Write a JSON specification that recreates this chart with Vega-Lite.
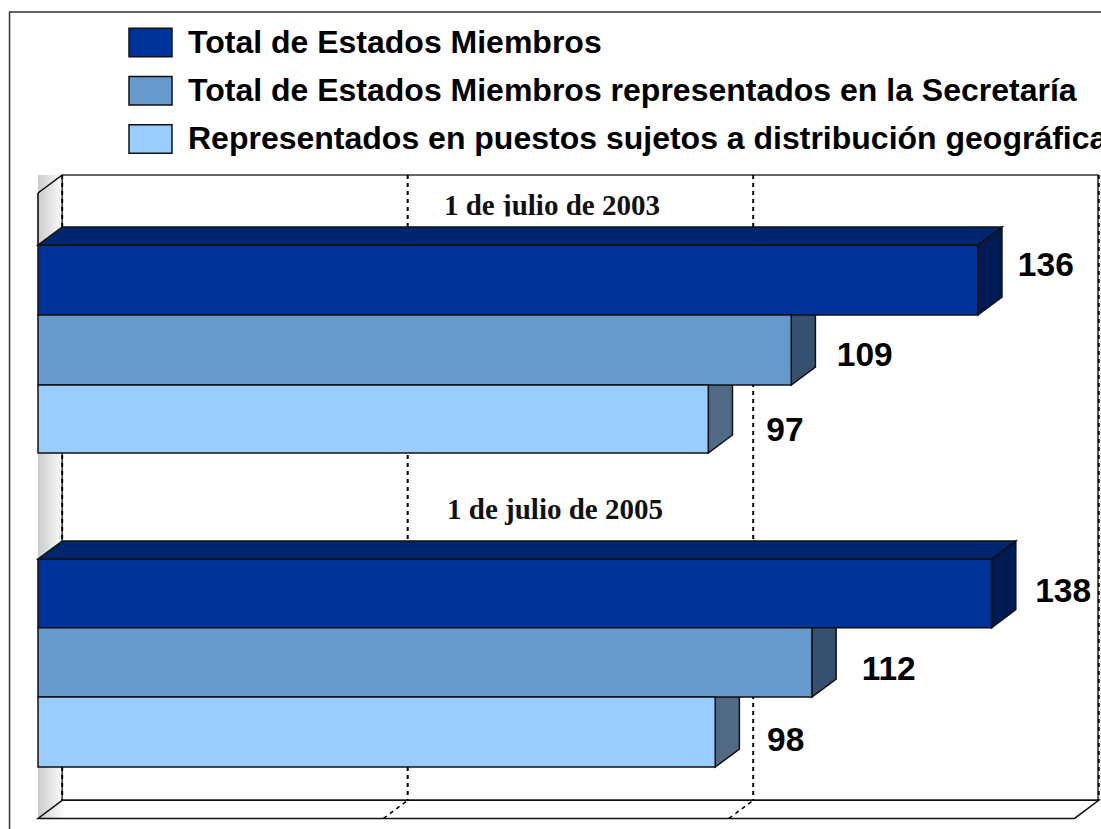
{
"$schema":"https://vega.github.io/schema/vega-lite/v6.json",
"width":1101,"height":829,"padding":0,"autosize":{"type":"none"},"background":"white",
"config":{"axis":{"disable":true},"view":{"stroke":null}},
"datasets":{
"bars":[
{"period":"1 de julio de 2003","series":"Total de Estados Miembros","base":0,"value":136,"slot":0,"slotEnd":1.01,"labelAt":141.8,"labelSlot":0.3},
{"period":"1 de julio de 2003","series":"Total de Estados Miembros representados en la Secretaría","base":0,"value":109,"slot":1.01,"slotEnd":2.02,"labelAt":115.6,"labelSlot":1.6},
{"period":"1 de julio de 2003","series":"Representados en puestos sujetos a distribución geográfica","base":0,"value":97,"slot":2.02,"slotEnd":3,"labelAt":105.4,"labelSlot":2.68},
{"period":"1 de julio de 2005","series":"Total de Estados Miembros","base":0,"value":138,"slot":4.53,"slotEnd":5.52,"labelAt":144.3,"labelSlot":5.0},
{"period":"1 de julio de 2005","series":"Total de Estados Miembros representados en la Secretaría","base":0,"value":112,"slot":5.52,"slotEnd":6.52,"labelAt":119.2,"labelSlot":6.13},
{"period":"1 de julio de 2005","series":"Representados en puestos sujetos a distribución geográfica","base":0,"value":98,"slot":6.52,"slotEnd":7.53,"labelAt":105.5,"labelSlot":7.15}],
"periods":[{"period":"1 de julio de 2003","at":58.75,"slot":-0.56},{"period":"1 de julio de 2005","at":59.2,"slot":3.82}],
"ticks":[{"tick":0},{"tick":50},{"tick":100},{"tick":150}],
"edges":[{"edge":0},{"edge":1}],
"frame":[{"part":"border","a":-4.12,"b":165,"c":-3.36,"d":10},{"part":"side","a":0,"b":3.9,"c":-1.01,"d":8.27},{"part":"wall","a":3.5,"b":153.4,"c":-1.01,"d":8.01},{"part":"corner","a":0,"b":0,"c":-0.75,"d":0},{"part":"mask","a":58.75,"b":90,"c":-0.41,"d":-0.27}]
},
"layer":[
{"mark":{"type":"rect","fillOpacity":0,"stroke":"#333333","strokeWidth":1.5},
 "data":{"name":"frame"},"transform":[{"filter":"datum.part=='border'"}],
 "encoding":{"x":{"field":"a","type":"quantitative","scale":{"domain":[-5.5,153.83],"zero":false,"nice":false}},"x2":{"field":"b"},
  "y":{"field":"c","type":"quantitative","scale":{"domain":[-3.534,8.423],"reverse":true,"zero":false,"nice":false}},"y2":{"field":"d"}}},
{"mark":{"type":"rect","fill":{"gradient":"linear","x1":0,"y1":0,"x2":1,"y2":0,"stops":[{"offset":0,"color":"#cccccc"},{"offset":1,"color":"#ffffff"}]}},
 "data":{"name":"frame"},"transform":[{"filter":"datum.part=='side'"}],
 "encoding":{"x":{"field":"a","type":"quantitative","scale":{"domain":[-5.5,153.83],"zero":false,"nice":false}},"x2":{"field":"b"},
  "y":{"field":"c","type":"quantitative","scale":{"domain":[-3.534,8.423],"reverse":true,"zero":false,"nice":false}},"y2":{"field":"d"}}},
{"mark":{"type":"rect","fill":"white","stroke":"#333333","strokeWidth":1.5},
 "data":{"name":"frame"},"transform":[{"filter":"datum.part=='wall'"}],
 "encoding":{"x":{"field":"a","type":"quantitative","scale":{"domain":[-5.5,153.83],"zero":false,"nice":false}},"x2":{"field":"b"},
  "y":{"field":"c","type":"quantitative","scale":{"domain":[-3.534,8.423],"reverse":true,"zero":false,"nice":false}},"y2":{"field":"d"}}},
{"mark":{"type":"area","orient":"horizontal","fillOpacity":0,"stroke":"#111111","strokeWidth":1.5},
 "data":{"name":"edges"},
 "transform":[{"calculate":"datum.edge*3.5","as":"xa"},{"calculate":"150+datum.edge*3.5","as":"xb"},{"calculate":"8.27-datum.edge*0.26","as":"yy"}],
 "encoding":{"x":{"field":"xa","type":"quantitative","scale":{"domain":[-5.5,153.83],"zero":false,"nice":false}},"x2":{"field":"xb"},
  "y":{"field":"yy","type":"quantitative","scale":{"domain":[-3.534,8.423],"reverse":true,"zero":false,"nice":false}}}},
{"mark":{"type":"rule","stroke":"black","strokeWidth":2,"strokeDash":[4,4]},
 "data":{"name":"ticks"},"transform":[{"calculate":"datum.tick+3.5","as":"back"},{"calculate":"-1.01","as":"top"},{"calculate":"8.01","as":"bottom"}],
 "encoding":{"x":{"field":"back","type":"quantitative","scale":{"domain":[-5.5,153.83],"zero":false,"nice":false}},
  "y":{"field":"top","type":"quantitative","scale":{"domain":[-3.534,8.423],"reverse":true,"zero":false,"nice":false}},"y2":{"field":"bottom"}}},
{"mark":{"type":"line","stroke":"black","strokeWidth":1.5,"strokeDash":[4,4]},
 "data":{"name":"ticks"},
 "transform":[{"filter":"datum.tick==50||datum.tick==100"},{"calculate":"[0,1]","as":"edge"},{"flatten":["edge"]},{"calculate":"datum.tick+datum.edge*3.5","as":"fx"},{"calculate":"8.27-datum.edge*0.26","as":"fy"}],
 "encoding":{"x":{"field":"fx","type":"quantitative","scale":{"domain":[-5.5,153.83],"zero":false,"nice":false}},
  "y":{"field":"fy","type":"quantitative","scale":{"domain":[-3.534,8.423],"reverse":true,"zero":false,"nice":false}},"detail":{"field":"tick","type":"nominal"}}},
{"mark":{"type":"line","stroke":"black","strokeWidth":1.5},
 "data":{"name":"edges"},
 "transform":[{"calculate":"datum.edge*3.5","as":"fx"},{"calculate":"-0.75-datum.edge*0.26","as":"fy"}],
 "encoding":{"x":{"field":"fx","type":"quantitative","scale":{"domain":[-5.5,153.83],"zero":false,"nice":false}},
  "y":{"field":"fy","type":"quantitative","scale":{"domain":[-3.534,8.423],"reverse":true,"zero":false,"nice":false}}}},
{"mark":{"type":"rule","stroke":"black","strokeWidth":1.5},
 "data":{"name":"frame"},"transform":[{"filter":"datum.part=='corner'"}],
 "encoding":{"x":{"field":"a","type":"quantitative","scale":{"domain":[-5.5,153.83],"zero":false,"nice":false}},
  "y":{"field":"c","type":"quantitative","scale":{"domain":[-3.534,8.423],"reverse":true,"zero":false,"nice":false}},"y2":{"field":"d"}}},
{"mark":{"type":"text","align":"left","baseline":"middle","font":"Liberation Serif","fontWeight":"bold","fontSize":29,"fill":"#111111"},
 "data":{"name":"periods"},
 "encoding":{"x":{"field":"at","type":"quantitative","scale":{"domain":[-5.5,153.83],"zero":false,"nice":false}},
  "y":{"field":"slot","type":"quantitative","scale":{"domain":[-3.534,8.423],"reverse":true,"zero":false,"nice":false}},"text":{"field":"period","type":"nominal"}}},
{"mark":{"type":"rect","fill":"white"},
 "data":{"name":"frame"},"transform":[{"filter":"datum.part=='mask'"}],
 "encoding":{"x":{"field":"a","type":"quantitative","scale":{"domain":[-5.5,153.83],"zero":false,"nice":false}},"x2":{"field":"b"},
  "y":{"field":"c","type":"quantitative","scale":{"domain":[-3.534,8.423],"reverse":true,"zero":false,"nice":false}},"y2":{"field":"d"}}},
{"mark":{"type":"area","stroke":"#111111","strokeWidth":1.5},
 "data":{"name":"bars"},
 "transform":[{"calculate":"[0,1]","as":"edge"},{"flatten":["edge"]},{"calculate":"datum.value+datum.edge*3.5","as":"sx"},{"calculate":"datum.slot-datum.edge*0.26","as":"st"},{"calculate":"datum.slotEnd-datum.edge*0.26","as":"sb"}],
 "encoding":{"x":{"field":"sx","type":"quantitative","scale":{"domain":[-5.5,153.83],"zero":false,"nice":false}},
  "y":{"field":"st","type":"quantitative","scale":{"domain":[-3.534,8.423],"reverse":true,"zero":false,"nice":false}},"y2":{"field":"sb"},
  "detail":{"field":"period","type":"nominal"},
  "fill":{"field":"series","type":"nominal","legend":null,"scale":{"domain":["Representados en puestos sujetos a distribución geográfica","Total de Estados Miembros representados en la Secretaría","Total de Estados Miembros"],"range":["#506A86","#365070","#001B54"]}}}},
{"mark":{"type":"rect","stroke":"#111111","strokeWidth":1.5},
 "data":{"name":"bars"},
 "encoding":{"x":{"field":"base","type":"quantitative","scale":{"domain":[-5.5,153.83],"zero":false,"nice":false}},"x2":{"field":"value"},
  "y":{"field":"slot","type":"quantitative","scale":{"domain":[-3.534,8.423],"reverse":true,"zero":false,"nice":false}},"y2":{"field":"slotEnd"},
  "color":{"field":"series","type":"nominal","scale":{"domain":["Total de Estados Miembros","Total de Estados Miembros representados en la Secretaría","Representados en puestos sujetos a distribución geográfica"],"range":["#003399","#6699CC","#99CCFF"]},
   "legend":{"title":null,"orient":"none","legendX":128,"legendY":20,"symbolType":"M-1,-0.66H1V0.66H-1Z","symbolSize":1849,"symbolStrokeColor":"#111111","symbolStrokeWidth":1.5,"symbolOpacity":1,"labelFont":"Liberation Sans","labelFontWeight":"bold","labelFontSize":32,"labelColor":"#000000","labelOffset":15,"labelLimit":1200,"rowPadding":8.25,"padding":0}}}},
{"mark":{"type":"area","orient":"horizontal","fill":"#00266F","stroke":"#111111","strokeWidth":1.5},
 "data":{"name":"bars"},
 "transform":[{"filter":"datum.series=='Total de Estados Miembros'"},{"calculate":"[0,1]","as":"edge"},{"flatten":["edge"]},{"calculate":"datum.edge*3.5","as":"xa"},{"calculate":"datum.value+datum.edge*3.5","as":"xb"},{"calculate":"datum.slot-datum.edge*0.26","as":"yy"}],
 "encoding":{"x":{"field":"xa","type":"quantitative","scale":{"domain":[-5.5,153.83],"zero":false,"nice":false}},"x2":{"field":"xb"},
  "y":{"field":"yy","type":"quantitative","scale":{"domain":[-3.534,8.423],"reverse":true,"zero":false,"nice":false}},"detail":{"field":"period","type":"nominal"}}},
{"mark":{"type":"text","align":"left","baseline":"middle","font":"Liberation Sans","fontWeight":"bold","fontSize":33.5,"fill":"#000000"},
 "data":{"name":"bars"},
 "encoding":{"x":{"field":"labelAt","type":"quantitative","scale":{"domain":[-5.5,153.83],"zero":false,"nice":false}},
  "y":{"field":"labelSlot","type":"quantitative","scale":{"domain":[-3.534,8.423],"reverse":true,"zero":false,"nice":false}},"text":{"field":"value","type":"quantitative"}}}
]
}
